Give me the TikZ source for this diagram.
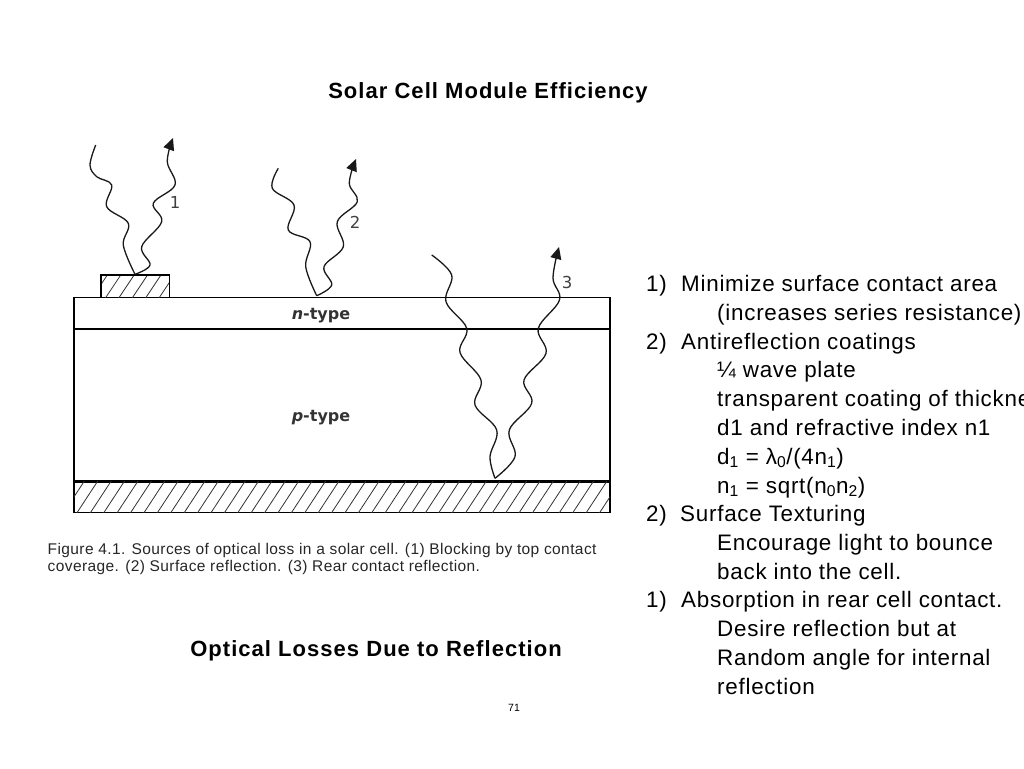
\documentclass[tikz,border=0pt]{standalone}
\usepackage{fontspec}
\setmainfont{Liberation Sans}
\newfontfamily\labelfont{DejaVu Sans}
\usetikzlibrary{arrows.meta,positioning}

\tikzset{
  heading/.style={font=\fontsize{22}{26}\selectfont\bfseries\addfontfeature{LetterSpace=4.7},inner sep=0pt,anchor=base},
  item/.style={font=\fontsize{22.4}{26}\selectfont\addfontfeature{LetterSpace=3.3},inner sep=0pt,anchor=base west},
  caption line/.style={font=\fontsize{15.5}{17}\selectfont\addfontfeature{LetterSpace=2.6},text=black!85,inner sep=0pt,anchor=base west},
  ray/.style={line width=1.3pt,black!90,smooth,tension=0.6},
  ray out/.style={ray,-{Stealth[inset=0pt,length=12pt,width=11pt]}},
  layer label/.style={font=\labelfont\fontsize{16}{18}\selectfont\bfseries,text=black!80,inner sep=0pt},
  ray label/.style={font=\labelfont\fontsize{16.5}{18}\selectfont,text=black!75,inner sep=0pt},
  hatch line/.style={line width=0.8pt,black!80}
}

\begin{document}
\begin{tikzpicture}[x=1pt,y=-1pt]
  \useasboundingbox (0,0) rectangle (1024,768);

  % titles
  \node[heading] (title) at (488,98) {Solar Cell Module Efficiency};
  \node[heading] (losses) at (376,656.5) {Optical Losses Due to Reflection};
  \node[font=\fontsize{10.5}{12}\selectfont,inner sep=0pt] (page) at (514,708) {71};

  % cell layers
  \draw[line width=1.2pt,black!70] (74,297.5) -- (610,297.5);
  \draw[line width=1.4pt] (74,297.5) rectangle (610,512.5);
  \draw[line width=2.6pt] (74,329) -- (610,329);
  \draw[line width=2.6pt] (74,481.5) -- (610,481.5);

  % rear contact
  \begin{scope}
    \clip (74,481.5) rectangle (610,512.5);
    \foreach \x in {50,63.4,...,620}
      \draw[hatch line] (\x,513) -- ++(21,-32);
  \end{scope}

  % top contact
  \begin{scope}
    \clip (101,275) rectangle (169.5,297.5);
    \foreach \x in {92,105.4,...,170}
      \draw[hatch line] (\x,298) -- ++(16,-24);
  \end{scope}
  \draw[line width=1.3pt] (101,297.5) |- (169.5,275) -- (169.5,297.5);

  \node[layer label] (ntype) at (321,316) {\textit{n}-type};
  \node[layer label] (ptype) at (321,418) {\textit{p}-type};

  % rays
  \coordinate (hit1) at (135,274.3);
  \coordinate (hit2) at (316.7,295.7);
  \coordinate (hit3) at (495,478.3);

  \draw[ray] plot coordinates {(95.7,145) (90,165) (96.7,176.7) (111.7,185) (106.7,206.7)
    (128.3,223.3) (123.3,245) (hit1)};
  \draw[ray out] plot coordinates {(hit1) (150,265) (141.7,246.7) (161.7,221.7) (153.3,203.3)
    (175,185) (167.3,161.7) (173,138)};

  \draw[ray] plot coordinates {(278.3,168.3) (272.3,188.3) (294,205) (288.3,230) (310,241.7)
    (305.7,266.7) (hit2)};
  \draw[ray out] plot coordinates {(hit2) (331.7,285) (324,266.7) (343.3,246.7) (337.3,221.7)
    (357.3,201.7) (349.3,183.3) (356,159)};

  \draw[ray] plot coordinates {(431.7,255) (451.7,275) (446,301.7) (466.7,328.3) (460,352.5)
    (481,380) (475,405) (496.7,430) (490,456.7) (hit3)};
  \draw[ray out] plot coordinates {(hit3) (515,456.7) (509.3,430) (531.7,403.3) (524,380)
    (546,353.3) (538.3,328.3) (559.5,300) (553,278) (559,247)};

  \node[ray label] (num1) at (175,202) {1};
  \node[ray label] (num2) at (355,222) {2};
  \node[ray label] (num3) at (567,282) {3};

  % figure caption
  \node[caption line] (cap1) at (47.5,554) {Figure 4.1. Sources of optical loss in a solar cell. (1) Blocking by top contact};
  \node[caption line] (cap2) at (47.5,571) {coverage. (2) Surface reflection. (3) Rear contact reflection.};

  % list on the right
  \node[item] (a1) at (646,291) {1)};
  \node[item] (a2) at (681,291) {Minimize surface contact area};
  \node[item] (a3) at (717,320) {(increases series resistance)};
  \node[item] (b1) at (646,349) {2)};
  \node[item] (b2) at (681,349) {Antireflection coatings};
  \node[item] (b3) at (717,377) {¼ wave plate};
  \node[item] (b4) at (717,406) {transparent coating of thickne};
  \node[item] (b5) at (717,435) {d1 and refractive index n1};
  \node[item] (b6) at (717,464) {d\textsubscript{1} = λ\textsubscript{0}/(4n\textsubscript{1})};
  \node[item] (b7) at (717,493) {n\textsubscript{1} = sqrt(n\textsubscript{0}n\textsubscript{2})};
  \node[item] (c1) at (646,521) {2)};
  \node[item] (c2) at (680,521) {Surface Texturing};
  \node[item] (c3) at (717,550) {Encourage light to bounce};
  \node[item] (c4) at (717,579) {back into the cell.};
  \node[item] (d1) at (646,607) {1)};
  \node[item] (d2) at (681,607) {Absorption in rear cell contact.};
  \node[item] (d3) at (717,636) {Desire reflection but at};
  \node[item] (d4) at (717,665) {Random angle for internal};
  \node[item] (d5) at (717,694) {reflection};
\end{tikzpicture}
\end{document}
